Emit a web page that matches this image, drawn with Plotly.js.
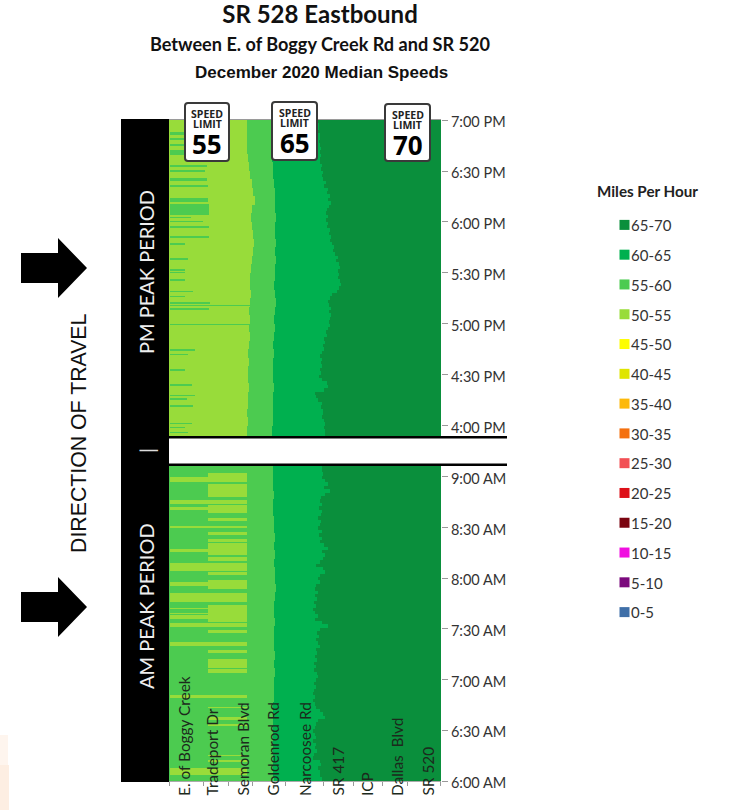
<!DOCTYPE html>
<html><head><meta charset="utf-8">
<script src="https://cdn.plot.ly/plotly-3.0.1.min.js"></script>
<style>html,body{margin:0;padding:0;background:#fff}#c{width:729px;height:810px}</style>
</head><body><div id="c"></div>
<script>
// ---------- DATA ----------
const bandLabels = ['0-5','5-10','10-15','15-20','20-25','25-30','30-35','35-40','40-45','45-50','50-55','55-60','60-65','65-70'];
const bandColors = ['#3f6fa8','#7b0a7d','#f00fe0','#7a0410','#dd1018','#f25055','#f4700f','#fdb90a','#dfe500','#fdfd00','#98dc3a','#4ccb50','#00b04f','#0a8f3c'];
const B50 = 10, B55 = 11, B60 = 12, B65 = 13;

const pmTickVals = [960,990,1020,1050,1080,1110,1140];
const pmTickText = ['4:00 PM','4:30 PM','5:00 PM','5:30 PM','6:00 PM','6:30 PM','7:00 PM'];
const amTickVals = [360,390,420,450,480,510,540];
const amTickText = ['6:00 AM','6:30 AM','7:00 AM','7:30 AM','8:00 AM','8:30 AM','9:00 AM'];

const stationNames = ['E. of Boggy Creek','Tradeport Dr','Semoran Blvd','Goldenrod Rd','Narcoosee Rd','SR 417','ICP','Dallas  Blvd','SR 520'];
const stationPos = [1.5,4.2,7.3,10.3,13.6,16.8,19.8,22.8,25.8];
const axisTicks = [0,3.4,5.9,8.3,11.6,15.4,18.4,21.3,23.8,27.1];

// Section ends along the corridor
const segSplit = 3.9;      // first / second sub-section
const amEdge55 = 7.85;     // AM end of the 50-55 zone

// PM: end of 50-55 zone, every 5 min from 7:00 PM backward
const pmEdge55 = [7.8,7.8,7.8,7.8,7.9,8.0,8.1,8.3,8.4,8.6,8.3,8.2,8.3,8.4,8.5,8.4,8.3,8.2,8.1,8.1,8.2,8.1,8.0,8.1,8.0,8.1,8.0,7.9,8.0,7.9,7.9,8.0,7.9,7.9,7.8,7.9,7.8,7.8];
// end of 55-60 zone, every 5 min backward
const pmEdge60 = [10.3,10.3,10.3,10.3,10.3,10.4,10.4,10.5,10.6,10.6,10.6,10.7,10.6,10.6,10.7,10.6,10.7,10.6,10.6,10.5,10.6,10.7,10.6,10.5,10.6,10.5,10.4,10.5,10.4,10.4,10.4,10.5,10.4,10.4,10.4,10.4,10.3,10.3];
const amEdge60 = [10.4,10.4,10.4,10.5,10.4,10.4,10.5,10.5,10.6,10.5,10.6,10.5,10.6,10.6,10.7,10.6,10.5,10.5,10.6,10.5,10.5,10.5,10.6,10.5,10.6,10.5,10.5,10.5,10.4,10.4,10.4,10.4,10.4,10.4,10.4,10.4,10.4,10.5];
// end of 60-65 zone, every 2 min backward
const pmEdge65 = [14.9,15.0,15.0,14.9,15.1,15.1,15.0,15.1,15.2,15.1,15.2,15.1,15.1,15.3,15.2,15.4,15.3,15.4,15.7,15.5,15.9,15.8,16.1,15.9,16.2,16.0,15.8,15.7,15.9,15.7,15.9,15.8,16.1,16.0,16.2,16.1,16.3,16.5,16.4,16.6,16.9,16.7,17.0,17.1,16.9,17.0,16.9,17.1,17.2,17.0,16.8,16.3,16.1,15.9,16.0,16.2,16.0,16.2,16.1,16.0,16.1,15.9,15.7,15.8,15.5,15.6,15.4,15.5,15.3,15.1,15.3,15.2,15.3,15.1,15.2,15.0,15.3,15.8,15.9,15.5,14.6,14.7,14.9,15.3,15.2,15.4,15.4,15.3,15.5,15.6,15.5,15.6,15.6];
const amEdge65 = [15.3,15.3,15.4,15.3,15.6,15.9,15.5,16.1,15.6,15.2,15.1,15.3,15.0,15.3,15.2,14.9,15.2,15.1,14.9,15.3,15.0,15.3,15.1,15.5,15.9,15.3,15.6,15.4,15.1,14.7,15.4,15.6,15.1,14.9,15.1,14.7,14.6,14.9,14.6,14.8,14.5,14.7,14.4,14.6,14.9,14.6,15.3,15.9,15.1,14.8,15.0,14.7,14.9,15.1,14.7,14.8,14.6,14.8,14.5,14.7,14.5,14.8,14.9,14.7,14.5,14.7,14.5,14.4,14.6,14.4,14.6,14.7,15.1,15.4,15.6,14.9,14.7,14.6,14.4,14.6,14.7,14.4,14.7,14.6,14.8,14.5,14.4,15.1,15.2,14.9,15.1,15.1,15.3,15.3];

// PM: minute ranges slower than the 50-55 zone's neighbours -> 55-60 streaks [from, to, end of streak]
const pmStreaks = [[1131.2,1132.9,3.8],[1128.2,1129.4,3.8],[1124.7,1125.9,3.8],[1119.4,1122.4,3.8],[1112.4,1113.5,3.8],[1109.4,1110.6,3.6],[1104.1,1105.9,3.8],[1100.6,1101.8,3.9],[1091.8,1094.1,3.9],[1084.1,1090.6,4.0],[1082.4,1083,2.2],[1080,1080.6,3.4],[1076.5,1077.6,4.0],[1070.6,1071.8,4.0],[1066.5,1067.6,1.6],[1057.6,1058.8,1.9],[1051.2,1052.4,1.6],[1050,1050.6,1.6],[1045.3,1046.5,1.6],[1038.8,1039.4,2.4],[1035.9,1036.5,1.6],[1031.8,1032.9,4.1],[1030.6,1031.2,8.1],[1028.2,1029.4,4.0],[1019.4,1020,8.0],[1004.1,1005.3,2.6],[1001.8,1002.4,1.9],[992.4,993.5,1.6],[983.5,984.7,2.3],[977.6,978.2,2.6],[975.3,976.5,1.8],[971.2,972.4,2.4],[961.2,961.8,2.3],[958.8,959.4,1.6],[955.9,956.5,1.9]];

// AM: 50-55 stretches in the first and second sub-sections [from, to]
const amFast1 = [[537,540.5],[537,537.5],[524,526.4],[520.5,522.2],[509.8,511],[495.6,497.4],[484.3,489.1],[476,477.8],[469.5,471.3],[466,469],[462,463],[459,460],[456.5,458.3],[451.2,453.6],[439.9,442.3],[409.2,411.5],[363.6,367.7]];
const amFast2 = [[537,542.4],[528.2,535.9],[524,526.4],[518.7,523.4],[514,515.7],[509.8,511],[505.7,507.4],[501.5,503.3],[493.8,500.9],[490.3,492.6],[484.3,489.1],[482,483.8],[473.7,479],[469.5,471.3],[466,469],[456.5,464.2],[454.1,455.9],[451.2,453.6],[447.6,449.4],[439.9,442.3],[435.8,437.6],[427.5,432.2],[424.5,426.3],[409.2,411.5],[403.2,403.8],[396.1,397.9],[392.6,393.8],[374.8,376],[371.3,373],[363.6,367.7]];

const rowStep = 0.5, colStep = 0.1, colCount = 272;
// ---------- BUILD ----------
const xs = Array.from({length: colCount}, (_, i) => (i + 0.5) * colStep);
const at = (arr, i) => arr[Math.max(0, Math.min(arr.length - 1, i))];
const inAny = (list, t) => list.some(r => t >= r[0] && t < r[1]);

function buildPM() {
  const y = [], z = [];
  for (let t = 954; t <= 1140; t += rowStep) {
    const back = 1140 - t, e5 = at(pmEdge55, Math.floor(back / 5)), e6 = at(pmEdge60, Math.floor(back / 5)), e7 = at(pmEdge65, Math.floor(back / 2));
    const s = pmStreaks.find(r => t >= r[0] && t < r[1]);
    y.push(t);
    z.push(xs.map(x => x < e5 ? ((s && x >= 0.1 && x < s[2]) ? B55 : B50) : x < e6 ? B55 : x < e7 ? B60 : B65));
  }
  return {y, z};
}
function buildAM() {
  const y = [], z = [];
  for (let t = 360; t <= 546.5; t += rowStep) {
    const back = 546.5 - t, e6 = at(amEdge60, Math.floor(back / 5)), e7 = at(amEdge65, Math.floor(back / 2));
    const f1 = inAny(amFast1, t), f2 = inAny(amFast2, t);
    y.push(t);
    z.push(xs.map(x => x < segSplit ? ((f1 && x >= 0.1) ? B50 : B55) : x < amEdge55 ? (f2 ? B50 : B55) : x < e6 ? B55 : x < e7 ? B60 : B65));
  }
  return {y, z};
}
const colorscale = [];
bandColors.forEach((c, i) => { colorscale.push([i / 14, c]); colorscale.push([(i + 1) / 14, c]); });

const pm = buildPM(), am = buildAM();
const heat = (d, ya) => ({type:'heatmap', x:xs, y:d.y, z:d.z, xaxis:'x', yaxis:ya, zmin:0, zmax:14, colorscale, showscale:false, hoverinfo:'skip'});
const legendDots = {type:'scatter', mode:'markers', x:bandLabels.map(() => 0), y:bandLabels, xaxis:'x2', yaxis:'y3',
  marker:{symbol:'square', size:10, color:bandColors}, hoverinfo:'skip', showlegend:false, cliponaxis:false};

// ---------- PAGE GEOMETRY ----------
const W = 729, H = 810;
const px = v => v / W, py = v => 1 - v / H;
const rect = (x0,y0,x1,y1,fill,layer) => ({type:'rect', xref:'paper', yref:'paper', x0:px(x0), x1:px(x1), y0:py(y0), y1:py(y1), fillcolor:fill, line:{width:0}, layer:layer||'above'});
const path = (d,fill,line) => ({type:'path', xref:'paper', yref:'paper', path:d, fillcolor:fill, line:line||{width:0}, layer:'above'});
function sign(x0,y0,x1,y1){const r=3;return path(
 `M${px(x0+r)},${py(y0)} L${px(x1-r)},${py(y0)} Q${px(x1)},${py(y0)} ${px(x1)},${py(y0+r)} L${px(x1)},${py(y1-r)} Q${px(x1)},${py(y1)} ${px(x1-r)},${py(y1)} L${px(x0+r)},${py(y1)} Q${px(x0)},${py(y1)} ${px(x0)},${py(y1-r)} L${px(x0)},${py(y0+r)} Q${px(x0)},${py(y0)} ${px(x0+r)},${py(y0)} Z`,
 '#ffffff',{color:'#3a3a3a',width:2});}
function arrow(cy){const p=[[21,cy-15],[58,cy-15],[58,cy-30],[87,cy],[58,cy+30],[58,cy+15],[21,cy+15]];
 return path('M'+p.map(q=>px(q[0])+','+py(q[1])).join(' L')+' Z','#000000');}

const shapes = [
  rect(0,765,9,810,'#fdeee2','below'), rect(0,735,8,765,'#fef5ee','below'),
  rect(121,119,169,782,'#000000'),
  rect(169,436,441,464,'#ffffff'),
  rect(169,436,507,438.5,'#000000'),
  rect(169,463.5,507,466,'#000000'),
  rect(169,119,441,120,'#9a9a9a'),
  sign(185,103,229,161), sign(272,102,317,160), sign(385,104,430,161),
  arrow(268), arrow(607)
];
const ann = (text,x,y,size,o) => Object.assign({text:text, xref:'paper', yref:'paper', x:px(x), y:py(y), xanchor:'center', yanchor:'middle', showarrow:false,
  font:{family:'Lato, sans-serif', size:size, color:'#111'}}, o||{});
const signText = (cx,y0,num) => [
  ann('<b>SPEED</b>',cx,y0,10.5,{font:{family:'"Open Sans", sans-serif',size:10.5,color:'#222'}}),
  ann('<b>LIMIT</b>',cx,y0+10,10.5,{font:{family:'"Open Sans", sans-serif',size:10.5,color:'#222'}}),
  ann('<b>'+num+'</b>',cx,y0+30,26,{font:{family:'"Open Sans", sans-serif',size:26,color:'#000'}})
];
const annotations = [
  ann('<b>Between E. of Boggy Creek Rd and SR 520</b>',320,44,18,{font:{family:'Lato, sans-serif',size:18.1,color:'#111'}}),
  ann('<b>December 2020 Median Speeds</b>',321,72,17,{font:{family:'"Liberation Sans", sans-serif',size:17,color:'#111'}}),
  ann('PM PEAK PERIOD',146,272,20,{textangle:-90,font:{family:'Lato, sans-serif',size:20,color:'#eeeeee'}}),
  ann('AM PEAK PERIOD',146,606,20,{textangle:-90,font:{family:'Lato, sans-serif',size:20,color:'#eeeeee'}}),
  ann('|',147,451,20,{textangle:-90,font:{family:'Lato, sans-serif',size:20,color:'#dddddd'}}),
  ann('DIRECTION OF TRAVEL',79,433,21.3,{textangle:-90,font:{family:'"Liberation Sans", sans-serif',size:21.3,color:'#111'}}),
  ann('<b>Miles Per Hour</b>',647,191,15,{font:{family:'Lato, sans-serif',size:15.2,color:'#222'}}),
  ...signText(207,114,'55'), ...signText(294.5,113,'65'), ...signText(407.5,115,'70')
];
stationNames.forEach((n,i)=>annotations.push({text:n, xref:'x', yref:'paper', x:stationPos[i], y:py(798), xanchor:'center', yanchor:'bottom', textangle:-90, showarrow:false,
  font:{family:'Lato, sans-serif', size:15.4, color:'#1c2a1c'}}));

const yTick = {side:'right', ticks:'outside', ticklen:6, tickcolor:'#999', tickwidth:1, showgrid:false, zeroline:false, showline:false, tickmode:'array', ticklabelshift:2,
  tickfont:{family:'Lato, sans-serif', size:14.5, color:'#333'}, fixedrange:true};
const layout = {
  width:W, height:H, margin:{l:0,r:0,t:0,b:0}, paper_bgcolor:'#fff', plot_bgcolor:'#fff', showlegend:false,
  title:{text:'<b>SR 528 Eastbound</b>', x:320/W, xanchor:'center', y:py(15), yanchor:'middle', font:{family:'Lato, sans-serif', size:24, color:'#111'}},
  xaxis:{domain:[px(169),px(441)], range:[0,27.2], anchor:'y2', tickmode:'array', tickvals:axisTicks, ticktext:axisTicks.map(()=>''), ticks:'outside', ticklen:4, tickcolor:'#999',
    showline:true, linecolor:'#aaa', showgrid:false, zeroline:false, fixedrange:true},
  yaxis:Object.assign({},yTick,{domain:[py(436),py(120)], range:[954.1,1140], anchor:'x', tickvals:pmTickVals, ticktext:pmTickText}),
  yaxis2:Object.assign({},yTick,{domain:[py(781),py(466)], range:[360,546.5], anchor:'x', tickvals:amTickVals, ticktext:amTickText}),
  xaxis2:{domain:[px(619),px(630)], range:[-1,1], anchor:'y3', visible:false, fixedrange:true},
  yaxis3:{domain:[py(627),py(210)], type:'category', categoryorder:'array', categoryarray:bandLabels, range:[-0.5,13.5], anchor:'x2', side:'right', ticks:'', showline:false, showgrid:false, zeroline:false, ticklabelshift:1,
    tickfont:{family:'Lato, sans-serif', size:15, color:'#333'}, fixedrange:true},
  shapes, annotations
};
Plotly.newPlot('c',[heat(pm,'y'),heat(am,'y2'),legendDots],layout,{displayModeBar:false,staticPlot:true});
</script></body></html>
